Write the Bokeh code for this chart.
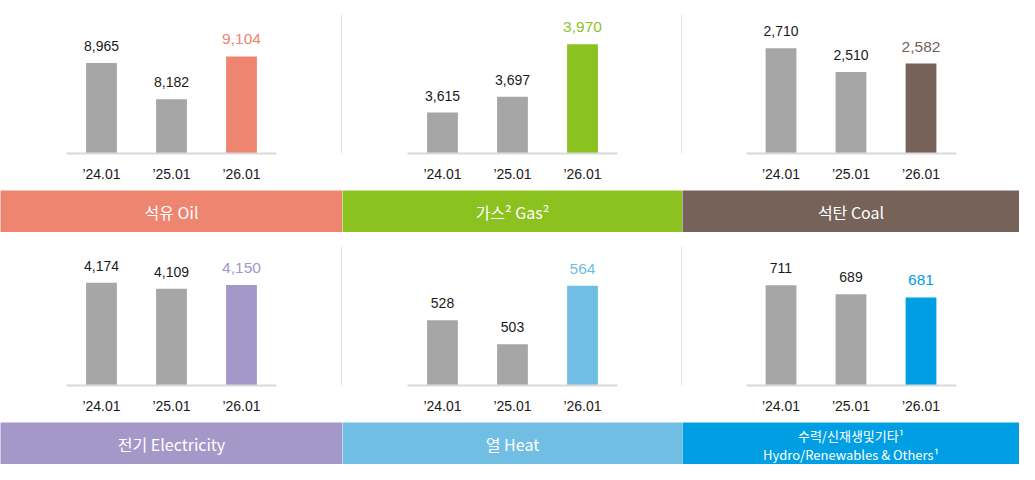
from bokeh.plotting import figure
from bokeh.models import FactorRange, Range1d, ColumnDataSource, LabelSet, Span
from bokeh.layouts import column, row
from bokeh.core.properties import value
from bokeh.embed import file_html
from bokeh.resources import INLINE

# ---- data ----
periods = ["’24.01", "’25.01", "’26.01"]
oil = [8965, 8182, 9104]
gas = [3615, 3697, 3970]
coal = [2710, 2510, 2582]
electricity = [4174, 4109, 4150]
heat = [528, 503, 564]
hydro = [711, 689, 681]

panel_values = [oil, gas, coal, electricity, heat, hydro]
panel_names = [
    ["석유 Oil"],
    ["가스² Gas²"],
    ["석탄 Coal"],
    ["전기 Electricity"],
    ["열 Heat"],
    ["수력/신재생및기타¹", "Hydro/Renewables & Others¹"],
]
panel_colors = ["#EE8570", "#8CC21F", "#766259", "#A398C8", "#70BEE4", "#009FE3"]
# truncated value axes (bottom, top)
y_bounds = [(7018, 10007), (3402, 4125), (1826, 2994),
            (3065, 4566), (460, 605), (465, 806)]

# ---- style ----
GRAY = "#A6A6A6"
NUM_FONT = "Liberation Sans"
KR_FONT = "Noto Sans CJK KR"
widths = [342, 340, 337]
PX_PER_CAT = 70
CHART_H = 190
BAND_H = 42


def chart(i):
    w = widths[i % 3]
    side = (w / PX_PER_CAT - len(periods)) / 2
    xr = FactorRange(factors=periods, range_padding=side, range_padding_units="absolute")
    y0, y1 = y_bounds[i]
    p = figure(x_range=xr, y_range=Range1d(y0, y1), width=w, height=CHART_H,
               output_backend="svg", toolbar_location=None,
               min_border_left=0, min_border_right=0, min_border_top=14, min_border_bottom=37)
    p.outline_line_color = None
    p.grid.visible = False
    p.yaxis.visible = False
    vals = panel_values[i]
    n = len(vals)
    bar_colors = [GRAY] * (n - 1) + [panel_colors[i]]
    lab_colors = ["#1A1A1A"] * (n - 1) + [panel_colors[i]]
    lab_sizes = ["14px"] * (n - 1) + ["15.5px"]
    src = ColumnDataSource(dict(x=periods, top=vals, c=bar_colors,
                                lab=[f"{v:,}" for v in vals], lc=lab_colors, ls=lab_sizes))
    p.vbar(x="x", top="top", bottom=y0, width=0.44, color="c", line_color=None, source=src)
    p.add_layout(LabelSet(x="x", y="top", text="lab", source=src, y_offset=12,
                          text_align="center", text_baseline="alphabetic",
                          text_color="lc", text_font_size="ls", text_font=value(NUM_FONT)))
    ax = p.xaxis[0]
    ax.bounds = (0, len(periods))
    ax.axis_line_color = "#D9D9D9"
    ax.axis_line_width = 2
    ax.major_tick_line_color = None
    ax.minor_tick_line_color = None
    ax.major_label_standoff = 6
    ax.major_label_text_font = NUM_FONT
    ax.major_label_text_font_size = "14px"
    ax.major_label_text_color = "#1A1A1A"
    if i % 3 < 2:
        end = len(periods) + side
        p.add_layout(Span(location=end - 0.6 / PX_PER_CAT, dimension="height",
                          line_color="#A0A0A0", line_dash="1 1", line_width=1))
    return p


def band(i):
    w = widths[i % 3]
    c = panel_colors[i]
    b = figure(width=w, height=BAND_H, x_range=Range1d(0, 1), y_range=Range1d(0, 1),
               output_backend="svg", toolbar_location=None, min_border=0,
               background_fill_color=c, border_fill_color=c)
    b.outline_line_color = None
    b.axis.visible = False
    b.grid.visible = False
    lines = panel_names[i]
    if len(lines) == 1:
        ys, size = [0.5], "16px"
    else:
        ys, size = [0.68, 0.24], "13px"
    b.text(x=[0.5] * len(lines), y=ys, text=lines, text_align="center",
           text_baseline="middle", text_color="white", text_font_size=size,
           text_font=value(KR_FONT))
    return b


charts = [chart(i) for i in range(6)]
bands = [band(i) for i in range(6)]
layout = column(row(*charts[0:3]), row(*bands[0:3]),
                row(*charts[3:6]), row(*bands[3:6]))

open("out.html", "w").write(file_html(layout, INLINE))
